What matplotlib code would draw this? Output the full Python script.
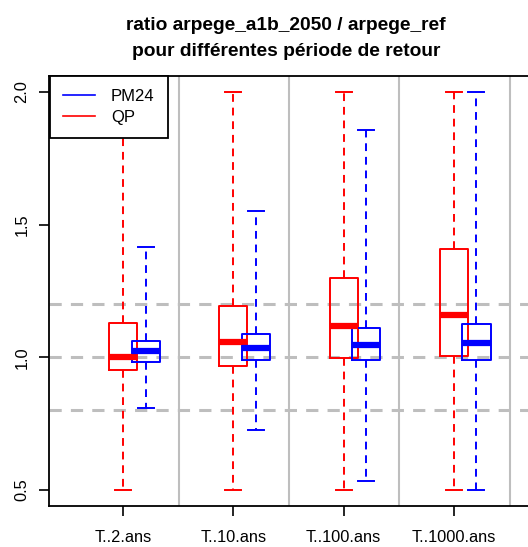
import matplotlib
matplotlib.use("Agg")
import matplotlib.pyplot as plt
from matplotlib.lines import Line2D

plt.rcParams['font.family'] = ['Liberation Sans', 'DejaVu Sans']

# data
periods = ['T..2.ans', 'T..10.ans', 'T..100.ans', 'T..1000.ans']

qp_low = [0.50, 0.50, 0.50, 0.50]
qp_q1 = [0.951, 0.966, 0.996, 1.004]
qp_med = [1.000, 1.057, 1.117, 1.158]
qp_q3 = [1.128, 1.192, 1.298, 1.408]
qp_high = [2.00, 2.00, 2.00, 2.00]

pm_low = [0.811, 0.725, 0.536, 0.50]
pm_q1 = [0.981, 0.989, 0.989, 0.989]
pm_med = [1.023, 1.034, 1.045, 1.053]
pm_q3 = [1.060, 1.087, 1.109, 1.125]
pm_high = [1.415, 1.551, 1.857, 2.00]

ref_levels = [0.8, 1.0, 1.2]

RED = '#FF0000'
BLUE = '#0000FF'
GRAY = '#BEBEBE'


def make_stats(low, q1, med, q3, high):
    return [dict(whislo=a, q1=b, med=c, q3=d, whishi=e, fliers=[])
            for a, b, c, d, e in zip(low, q1, med, q3, high)]


def draw(ax, stats, positions, color):
    ax.bxp(stats, positions=positions, widths=0.255, showfliers=False,
           boxprops=dict(color=color, lw=1.4),
           whiskerprops=dict(color=color, lw=1.4, linestyle=(0, (4, 3))),
           capprops=dict(color=color, lw=1.4),
           medianprops=dict(color=color, lw=4.5, solid_capstyle='butt'),
           capwidths=0.145, manage_ticks=False)


fig = plt.figure(figsize=(5.28, 5.47), dpi=100)
ax = fig.add_axes([49 / 528, 41 / 547, 479 / 528, 430 / 547])

n = len(periods)
pos = list(range(1, n + 1))

for lvl in ref_levels:
    ax.axhline(lvl, color=GRAY, lw=2.2, linestyle=(0, (4, 3)), zorder=0)
for i in range(n):
    ax.axvline(pos[i] + 0.505, color=GRAY, lw=1.5, zorder=0)

draw(ax, make_stats(qp_low, qp_q1, qp_med, qp_q3, qp_high), pos, RED)
draw(ax, make_stats(pm_low, pm_q1, pm_med, pm_q3, pm_high),
     [p + 0.205 for p in pos], BLUE)

ax.set_xlim(0.329, 4.672)
ax.set_ylim(0.44, 2.06)
ax.set_xticks(pos)
ax.set_xticklabels(periods, fontsize=11.8)
ax.set_yticks([0.5, 1.0, 1.5, 2.0])
ax.set_yticklabels(['0.5', '1.0', '1.5', '2.0'], rotation=90, va='center',
                   fontsize=11.8)
ax.tick_params(axis='x', length=7, width=1.2, pad=10)
ax.tick_params(axis='y', length=7, width=1.2, pad=7)
ax.spines['right'].set_visible(False)
for s in ['left', 'bottom', 'top']:
    ax.spines[s].set_linewidth(1.3)

handles = [Line2D([], [], color=BLUE, lw=1.2), Line2D([], [], color=RED, lw=1.2)]
leg = ax.legend(handles, ['PM24', 'QP'], loc='upper left',
                bbox_to_anchor=(0.002, 1.0), borderaxespad=0, fontsize=12,
                handlelength=1.9, handletextpad=0.95, labelspacing=0.32,
                borderpad=0.8, fancybox=False, framealpha=1)
leg.get_frame().set_edgecolor('black')
leg.get_frame().set_linewidth(1.3)

fig.text(286 / 528, 1 - 25 / 547, 'ratio arpege_a1b_2050 / arpege_ref',
         ha='center', va='center', fontsize=13.8, fontweight='bold')
fig.text(286 / 528, 1 - 51 / 547, 'pour différentes période de retour',
         ha='center', va='center', fontsize=13.8, fontweight='bold')

fig.savefig('out.png', dpi=100)
